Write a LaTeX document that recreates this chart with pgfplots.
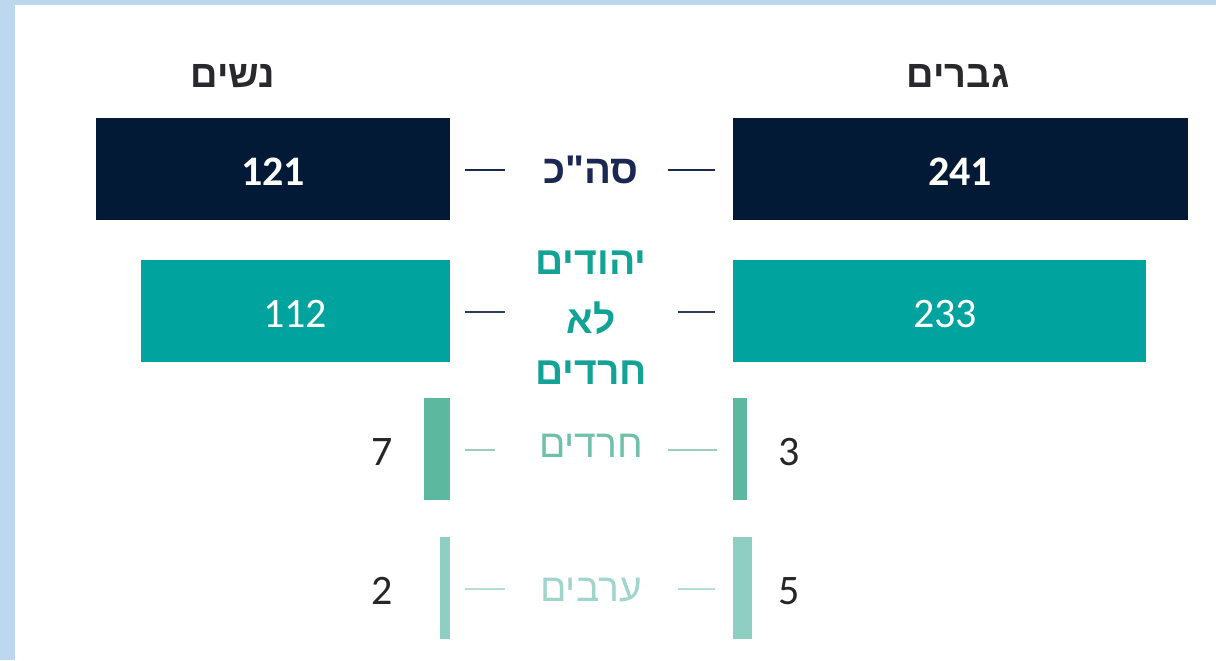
\documentclass[border=0pt]{standalone}
\usepackage{pgfplots}
\pgfplotsset{compat=1.18}
\usepackage{fontspec}
\setmainfont{Carlito}
\newfontfamily\hebfont[Script=Hebrew]{Liberation Sans}
\TeXXeTstate=1

\definecolor{frameblue}{RGB}{189,215,238}
\definecolor{navy}{RGB}{2,26,53}
\definecolor{navytxt}{RGB}{27,40,82}
\definecolor{headtxt}{RGB}{40,40,45}
\definecolor{teal}{RGB}{0,163,158}
\definecolor{tealtxt}{RGB}{18,163,150}
\definecolor{hared}{RGB}{92,185,160}
\definecolor{haredtxt}{RGB}{110,192,170}
\definecolor{arab}{RGB}{143,206,195}
\definecolor{arabtxt}{RGB}{160,213,203}
\definecolor{numgray}{RGB}{38,38,38}

\newcommand{\heb}[1]{{\hebfont\beginR #1\endR}}

% pixel grid of the picture: 1 px = 0.5pt
\pgfplotsset{
  px/.style={scale only axis, hide axis, y dir=reverse,
    ymin=0, ymax=660, height=330pt, clip=false},
  lbl/.style={draw=none, mark=none, point meta=explicit symbolic,
    nodes near coords={\pgfplotspointmeta}}
}

\begin{document}
\begin{tikzpicture}
% background, headings and middle labels
\begin{axis}[px, xmin=0, xmax=1216, width=608pt, at={(0,0)}, anchor=north west]
\fill[frameblue] (axis cs:0,0) rectangle (axis cs:1216,660);
\fill[white] (axis cs:15,5) rectangle (axis cs:1216,660);
\node[headtxt] at (axis cs:233,76) {\fontsize{19}{23}\selectfont\bfseries\heb{נשים}};
\node[headtxt] at (axis cs:958,76) {\fontsize{19}{23}\selectfont\bfseries\heb{גברים}};
\node[navytxt] at (axis cs:591,170) {\fontsize{20}{24}\selectfont\bfseries\heb{סה"כ}};
\node[tealtxt] at (axis cs:591,263) {\fontsize{19.5}{24}\selectfont\bfseries\heb{יהודים}};
\node[tealtxt] at (axis cs:591,318) {\fontsize{19.5}{24}\selectfont\bfseries\heb{לא}};
\node[tealtxt] at (axis cs:591,373) {\fontsize{19.5}{24}\selectfont\bfseries\heb{חרדים}};
\node[haredtxt] at (axis cs:591,446) {\fontsize{19.5}{24}\selectfont\heb{חרדים}};
\node[arabtxt] at (axis cs:591,590) {\fontsize{19.5}{24}\selectfont\heb{ערבים}};
\draw[navytxt, line width=1.3pt] (axis cs:465,170) -- (axis cs:505,170) (axis cs:668,170) -- (axis cs:715,170);
\draw[navytxt!80!gray, line width=1.3pt] (axis cs:465,312) -- (axis cs:505,312) (axis cs:678,312) -- (axis cs:715,312);
\draw[arabtxt!90!gray, line width=1.3pt] (axis cs:465,450) -- (axis cs:495,450) (axis cs:668,450) -- (axis cs:717,450);
\draw[arabtxt!80!white, line width=1.3pt] (axis cs:465,589) -- (axis cs:505,589) (axis cs:678,589) -- (axis cs:715,589);
\end{axis}

% women (drawn length in px, label = value)
\begin{axis}[px, xmin=0, xmax=450, width=225pt, x dir=reverse,
  at={(0,0)}, anchor=north west]
\addplot[xbar, bar width=102, fill=navy, draw=none] coordinates {(354,169)};
\addplot[xbar, bar width=102, fill=teal, draw=none] coordinates {(309,311)};
\addplot[xbar, bar width=102, fill=hared, draw=none] coordinates {(26,449)};
\addplot[xbar, bar width=102, fill=arab, draw=none] coordinates {(10,588)};
\addplot[lbl, nodes near coords style={anchor=center, white,
  font=\fontsize{21}{25}\selectfont\bfseries}] coordinates {(177,172) [121]};
\addplot[lbl, nodes near coords style={anchor=center, white,
  font=\fontsize{21}{25}\selectfont}] coordinates {(155,314) [112]};
\addplot[lbl, nodes near coords style={anchor=east, numgray,
  font=\fontsize{21}{25}\selectfont}] coordinates {(50,452) [7] (50,591) [2]};
\end{axis}

% men
\begin{axis}[px, xmin=0, xmax=483, width=241.5pt,
  at={(366.5pt,0)}, anchor=north west]
\addplot[xbar, bar width=102, fill=navy, draw=none] coordinates {(455,169)};
\addplot[xbar, bar width=102, fill=teal, draw=none] coordinates {(413,311)};
\addplot[xbar, bar width=102, fill=hared, draw=none] coordinates {(14,449)};
\addplot[xbar, bar width=102, fill=arab, draw=none] coordinates {(19,588)};
\addplot[lbl, nodes near coords style={anchor=center, white,
  font=\fontsize{21}{25}\selectfont\bfseries}] coordinates {(227,172) [241]};
\addplot[lbl, nodes near coords style={anchor=center, white,
  font=\fontsize{21}{25}\selectfont}] coordinates {(212,314) [233]};
\addplot[lbl, nodes near coords style={anchor=west, numgray,
  font=\fontsize{21}{25}\selectfont}] coordinates {(38,452) [3] (38,591) [5]};
\end{axis}
\end{tikzpicture}
\end{document}
